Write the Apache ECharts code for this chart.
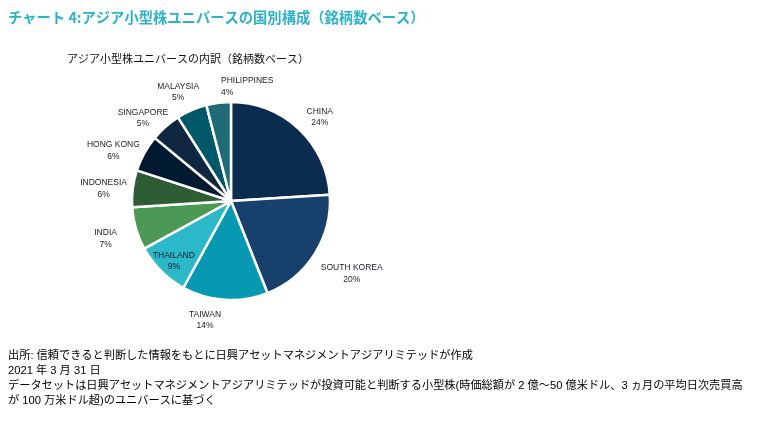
<!DOCTYPE html>
<html>
<head>
<meta charset="utf-8">
<script src="https://cdn.jsdelivr.net/npm/echarts@6/dist/echarts.min.js"></script>
<style>
html,body{margin:0;padding:0;background:#fff;}
#c{width:759px;height:424px;}
</style>
</head>
<body>
<div id="c"></div>
<script>
const categories = ['CHINA','SOUTH KOREA','TAIWAN','THAILAND','INDIA','INDONESIA','HONG KONG','SINGAPORE','MALAYSIA','PHILIPPINES'];
const shares = [24, 20, 14, 9, 7, 6, 6, 5, 5, 4];
const sliceColors = ['#0c2c4f','#17416c','#0799b2','#2bb9c9','#4b9955','#2e5c33','#021a30','#0f2740','#005868','#1f6b78'];
const titleText = 'チャート 4:アジア小型株ユニバースの国別構成（銘柄数ベース）';
const subtitleText = 'アジア小型株ユニバースの内訳（銘柄数ベース）';
const notes = [
  '出所: 信頼できると判断した情報をもとに日興アセットマネジメントアジアリミテッドが作成',
  '2021 年 3 月 31 日',
  'データセットは日興アセットマネジメントアジアリミテッドが投資可能と判断する小型株(時価総額が 2 億～50 億米ドル、3 ヵ月の平均日次売買高',
  'が 100 万米ドル超)のユニバースに基づく'
];

// label placement style: [angle shift from slice middle (deg), distance from centre (px), align]
const labelPlacement = [
  [3.5, 122, 'center'], [-1.3, 141, 'center'], [8.7, 122, 'center'], [-1.5, 83, 'center'],
  [-0.6, 131, 'center'], [-1.6, 128, 'center'], [-5.6, 128, 'center'], [-5.3, 121, 'center'],
  [-2.5, 121, 'center'], [2.2, 115, 'left']
];

const CX = 231, CY = 201, R = 99;
const total = shares.reduce((a,b)=>a+b,0);
const midAngles = [];
{ let acc = 0; shares.forEach(v => { midAngles.push((acc + v/2)/total*360); acc += v; }); }

const chart = echarts.init(document.getElementById('c'), null, {renderer:'canvas'});
const noteFont = '"Liberation Sans","Noto Sans CJK JP",sans-serif';
chart.setOption({
  animation: false,
  backgroundColor: '#fff',
  graphic: [
    {type:'text', left: 8, top: 10, style:{text: titleText, fill:'#2cb3c8', font:'bold 14.3px "Noto Sans CJK JP",sans-serif'}},
    {type:'text', left: 67, top: 53, style:{text: subtitleText, fill:'#111', font:'11px "Noto Sans CJK JP",sans-serif'}},
  ].concat(notes.map((t,i)=>({type:'text', left: 8, top: 350 + i*15, style:{text:t, fill:'#000', font:'11.2px ' + noteFont}}))),
  series: [{
    type: 'pie',
    center: [CX, CY],
    radius: [0, R],
    startAngle: 90,
    clockwise: true,
    silent: true,
    itemStyle: {borderColor:'#fff', borderWidth: 2.5},
    label: {
      show: true,
      formatter: '{b}\n{c}%',
      color: '#1a1a2a',
      fontSize: 8.5,
      lineHeight: 11.5,
      fontFamily: '"Liberation Sans",sans-serif'
    },
    labelLine: {show: false},
    labelLayout: function (p) {
      const i = p.dataIndex;
      const pl = labelPlacement[i];
      const a = (midAngles[i] + pl[0]) * Math.PI / 180;
      const dx = Math.sin(a), dy = -Math.cos(a);
      return {x: CX + dx*pl[1], y: CY + dy*pl[1], align: pl[2], verticalAlign:'middle'};
    },
    data: categories.map((n,i)=>({name:n, value:shares[i], itemStyle:{color:sliceColors[i]},
      label: labelPlacement[i][2] === 'left' ? {align:'left'} : {}}))
  }]
});
</script>
</body>
</html>
